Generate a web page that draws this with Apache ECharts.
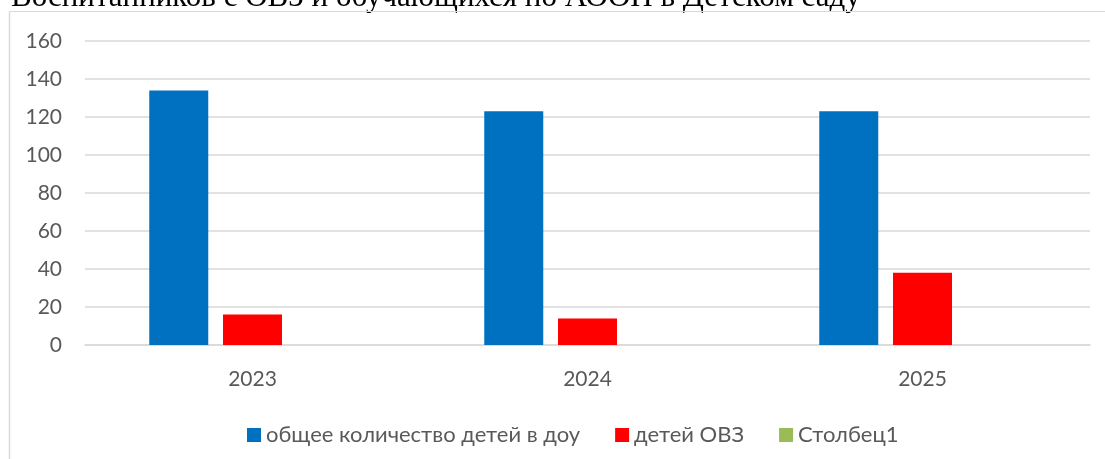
<!DOCTYPE html>
<html>
<head>
<meta charset="utf-8">
<script src="https://cdn.jsdelivr.net/npm/echarts@6/dist/echarts.min.js"></script>
<style>
  html, body { margin: 0; padding: 0; background: #fff; }
  #chart { width: 1105px; height: 459px; }
</style>
</head>
<body>
<div id="chart"></div>
<script>
// данные диаграммы
const years = ['2023', '2024', '2025'];
const totalKids = [134, 123, 123];   // общее количество детей в доу
const ovzKids = [16, 14, 38];        // детей ОВЗ
const column1 = [0, 0, 0];           // Столбец1
const yTicks = [0, 20, 40, 60, 80, 100, 120, 140, 160];

const labelFont = 'Lato, "Open Sans", "Noto Sans", sans-serif';

const chart = echarts.init(document.getElementById('chart'));
chart.setOption({
  animation: false,
  title: {
    text: 'Воспитанников с ОВЗ и обучающихся по АООП в Детском саду',
    left: 6,
    top: -23,
    textStyle: {
      fontFamily: '"Liberation Serif", "DejaVu Serif", serif',
      fontSize: 31,
      fontWeight: 'normal',
      color: '#000'
    }
  },
  // рамка области диаграммы (видны только левая и верхняя стороны)
  graphic: [
    { type: 'line', z: 100, shape: { x1: 9.5, y1: 11.5, x2: 1105, y2: 11.5 }, style: { stroke: '#d9d9d9', lineWidth: 1 } },
    { type: 'line', z: 100, shape: { x1: 9.5, y1: 11.5, x2: 9.5, y2: 459 }, style: { stroke: '#d9d9d9', lineWidth: 1.5 } }
  ],
  color: ['#0070c0', '#ff0000', '#9bbb59'],
  grid: { left: 85, right: 15, top: 41, bottom: 114 },
  legend: {
    data: ['общее количество детей в доу', 'детей ОВЗ', 'Столбец1'],
    top: 419,
    left: 242,
    icon: 'rect',
    itemWidth: 14,
    itemHeight: 14,
    itemGap: 35,
    textStyle: { fontFamily: labelFont, fontSize: 22, color: '#595959' }
  },
  xAxis: {
    type: 'category',
    data: years,
    axisLine: { show: true, lineStyle: { color: '#d9d9d9', width: 1.5 } },
    axisTick: { show: false },
    axisLabel: { fontFamily: labelFont, fontSize: 21, color: '#595959', margin: 24 }
  },
  yAxis: {
    type: 'value',
    min: yTicks[0],
    max: yTicks[yTicks.length - 1],
    interval: 20,
    axisLine: { show: false },
    axisTick: { show: false },
    axisLabel: { fontFamily: labelFont, fontSize: 21, color: '#595959', margin: 23 },
    splitLine: { lineStyle: { color: '#d9d9d9', width: 1.5 } }
  },
  series: [
    { name: 'общее количество детей в доу', type: 'bar', data: totalKids, barWidth: 59, barGap: '25%' },
    { name: 'детей ОВЗ', type: 'bar', data: ovzKids, barWidth: 59, barGap: '25%' },
    { name: 'Столбец1', type: 'bar', data: column1, barWidth: 59, barGap: '25%' }
  ]
});
</script>
</body>
</html>
